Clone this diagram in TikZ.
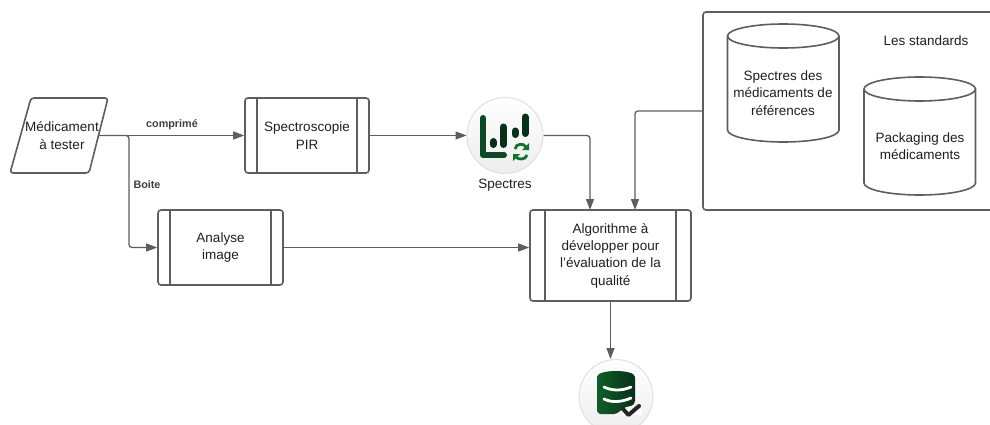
\documentclass[tikz,border=0pt]{standalone}
\usepackage{fontspec}
\setmainfont{Liberation Sans}
\usetikzlibrary{arrows.meta}
\definecolor{linegray}{HTML}{5E5E5E}
\definecolor{txt}{HTML}{1F1F1F}
\definecolor{gdark}{HTML}{06301A}
\definecolor{gmid}{HTML}{0B4A22}
\definecolor{glight}{HTML}{14722E}
\tikzset{
  x=1pt,y=-1pt,
  shapeline/.style={draw=linegray,line width=1.6pt,line join=round},
  procbox/.style={shapeline,rounded corners=3pt,inner sep=0pt,align=center,text=txt,font=\fontsize{13.5}{17.3}\selectfont},
  bar/.style={draw=linegray,line width=1.6pt},
  label/.style={inner sep=0pt,align=center,text=txt,font=\fontsize{13.5}{17.3}\selectfont},
  edgelabel/.style={inner sep=0pt,text=black!75,font=\fontsize{10.8}{12}\selectfont\bfseries},
  conn/.style={draw=linegray,line width=1.3pt,rounded corners=3pt,-{Triangle[length=11pt,width=8pt,fill=linegray]}},
  iconcirc/.style={circle,draw=black!12,line width=1pt,top color=white,bottom color=black!7,minimum size=76pt,inner sep=0pt},
  ico/.style={line width=6pt,line cap=round,line join=round},
}
\newcommand{\cylshape}[4]{% left, top, width, height
  \pgfmathsetmacro{\cylrx}{#3/2}
  \pgfmathsetmacro{\cylcx}{#1+#3/2}
  \pgfmathsetmacro{\cyltc}{#2+12}
  \pgfmathsetmacro{\cylbc}{#2+#4-12}
  \pgfmathsetmacro{\cylr}{#1+#3}
  \draw[shapeline,fill=white] (\cylcx,\cyltc) ellipse [x radius=\cylrx pt,y radius=12pt];
  \draw[shapeline] (#1,\cyltc) -- (#1,\cylbc) arc[start angle=180,end angle=360,x radius=\cylrx pt,y radius=12pt] -- (\cylr,\cyltc);
}
\begin{document}
\begin{tikzpicture}
\useasboundingbox (0,0) rectangle (990,425);
\clip (0,0) rectangle (990,425);
\fill[white] (0,0) rectangle (990,425);

% input parallelogram
\draw[shapeline,rounded corners=3pt] (31,98) -- (108,98) -- (89,173) -- (10,173) -- cycle;
\node[label] (med) at (62,135.5) {Médicament\\à tester};
\coordinate (medR) at (99,135.5);
\coordinate (branch) at (129,135.5);

% process boxes
\node[procbox,minimum width=124pt,minimum height=75pt] (spec) at (307,135.5) {Spectroscopie\\PIR};
\draw[bar] ([xshift=13pt]spec.north west) -- ([xshift=13pt]spec.south west);
\draw[bar] ([xshift=-13pt]spec.north east) -- ([xshift=-13pt]spec.south east);

\node[procbox,minimum width=125pt,minimum height=75pt] (ana) at (220.5,247.5) {Analyse\\image};
\draw[bar] ([xshift=13pt]ana.north west) -- ([xshift=13pt]ana.south west);
\draw[bar] ([xshift=-13pt]ana.north east) -- ([xshift=-13pt]ana.south east);

\node[procbox,minimum width=161pt,minimum height=91pt] (algo) at (610.5,255.5) {Algorithme à\\développer pour\\l'évaluation de la\\qualité};
\draw[bar] ([xshift=16pt]algo.north west) -- ([xshift=16pt]algo.south west);
\draw[bar] ([xshift=-16pt]algo.north east) -- ([xshift=-16pt]algo.south east);

% standards container
\draw[shapeline,rounded corners=3pt] (1000,12) -- (703,12) -- (703,210) -- (1000,210);
\coordinate (stdL) at (703,111);
\coordinate (algoA) at (635,210);
\coordinate (algoB) at (590,210);
\node[label] (std) at (926,41) {Les standards};
\cylshape{727.5}{24}{111.5}{118}
\node[label] (c1) at (783,93) {Spectres des\\médicaments de\\références};
\cylshape{864}{77}{111.5}{118}
\node[label] (c2) at (920,146) {Packaging des\\médicaments};

% circle 1
\node[iconcirc] (circA) at (505,135.5) {};
\node[label] (circAt) at (505,185) {Spectres};
\draw[ico,draw=gmid] (483,118) -- (483,155) -- (504,155);
\draw[ico,draw=gdark,line width=7pt,line cap=round] (493,141.5) -- (493,144.5);
\draw[ico,draw=gdark,line width=7pt] (503.5,127) -- (503.5,144.5);
\draw[ico,draw=gdark,line width=7pt] (515,131) -- (515,134.5);
\draw[ico,draw=gdark,line width=7pt] (525,117) -- (525,133.5);
\draw[glight,line width=2.8pt] (515,149) .. controls (516,143) and (524,143) .. (526,147);
\fill[glight] (529,143) -- (529,150) -- (522,150) -- cycle;
\draw[glight,line width=2.8pt] (527,155) .. controls (526,160) and (518,160) .. (516,157);
\fill[glight] (513,161) -- (513,154) -- (520,154) -- cycle;

% circle 2
\node[iconcirc,minimum size=74pt] (circB) at (616,396.5) {};
\path[left color=glight!50!gmid,right color=gdark,rounded corners=4pt]
  (597,381) .. controls (597,369) and (635,369) .. (635,381) -- (635,405) -- (622,408) -- (618,414) -- (604,414) .. controls (599,414) and (597,411) .. (597,407) -- cycle;
\draw[white,line width=2.8pt,line cap=round] (604,387) .. controls (612,391) and (622,391) .. (631,387);
\draw[white,line width=2.8pt,line cap=round] (604,399) .. controls (612,403) and (622,402) .. (631,398);
\draw[white,line width=6pt] (622,412) -- (642,412);
\draw[black!85,line width=4pt,line cap=round,line join=round] (623,409) -- (628.5,415) -- (639,406);

% connectors
\draw[conn] (medR) -- (spec.west);
\draw[conn] (medR) -- (branch) |- (ana.west);
\draw[conn] (spec.east) -- (circA.west);
\draw[conn] (ana.east) -- (ana.east -| algo.west);
\draw[conn] (circA.east) -| (algoB);
\draw[conn] (stdL) -| (algoA);
\draw[conn] (algo.south) -- (algo.south |- circB.north);

\node[edgelabel] (lblA) at (172,125) {comprimé};
\node[edgelabel] (lblB) at (147,185) {Boite};
\end{tikzpicture}
\end{document}
